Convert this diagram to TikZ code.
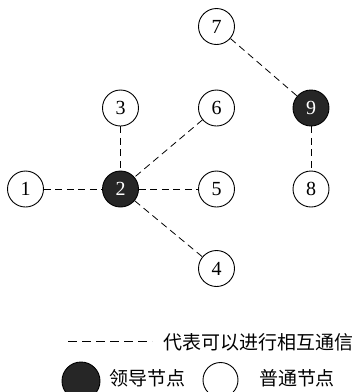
\documentclass[tikz,border=0pt]{standalone}
\usepackage{fontspec}
\setmainfont{Liberation Serif}
\newfontfamily\cjk{Noto Sans CJK SC}
\begin{document}
\begin{tikzpicture}[x=1pt,y=-1pt,
  normal/.style={circle,draw=black,line width=0.9pt,fill=white,minimum size=36pt,inner sep=0pt,font=\fontsize{20}{20}\selectfont},
  leader/.style={normal,fill=black!85,text=white},
  link/.style={line width=0.8pt,dash pattern=on 7pt off 4.5pt},
  legtext/.style={font=\cjk\fontsize{19}{19}\selectfont,inner sep=0pt}]
\useasboundingbox (0,0) rectangle (363,392);
\node[normal] (n7) at (216.5,26.5) {7};
\node[normal] (n3) at (120.5,108) {3};
\node[normal] (n6) at (216.5,108) {6};
\node[leader] (n9) at (311,108) {9};
\node[normal] (n1) at (25.5,189) {1};
\node[leader] (n2) at (120.5,189) {2};
\node[normal] (n5) at (216.5,189) {5};
\node[normal] (n8) at (311,189) {8};
\node[normal] (n4) at (216.5,268.5) {4};
\draw[link] (n1) -- (n2);
\draw[link] (n2) -- (n5);
\draw[link] (n3) -- (n2);
\draw[link] (n6) -- (n2);
\draw[link] (n2) -- (n4);
\draw[link] (n7) -- (n9);
\draw[link] (n9) -- (n8);
% legend
\coordinate (la) at (68,341);
\coordinate (lb) at (152,341);
\draw[line width=0.8pt,dash pattern=on 8.5pt off 5.5pt] (la) -- (lb);
\node[legtext,anchor=west] (t1) at (163,342) {代表可以进行相互通信};
\node[leader,minimum size=38pt] (lg1) at (81,381) {};
\node[legtext] (t2) at (148,378) {领导节点};
\node[normal,minimum size=35pt] (lg2) at (220.5,380) {};
\node[legtext] (t3) at (297,378) {普通节点};
\end{tikzpicture}
\end{document}
